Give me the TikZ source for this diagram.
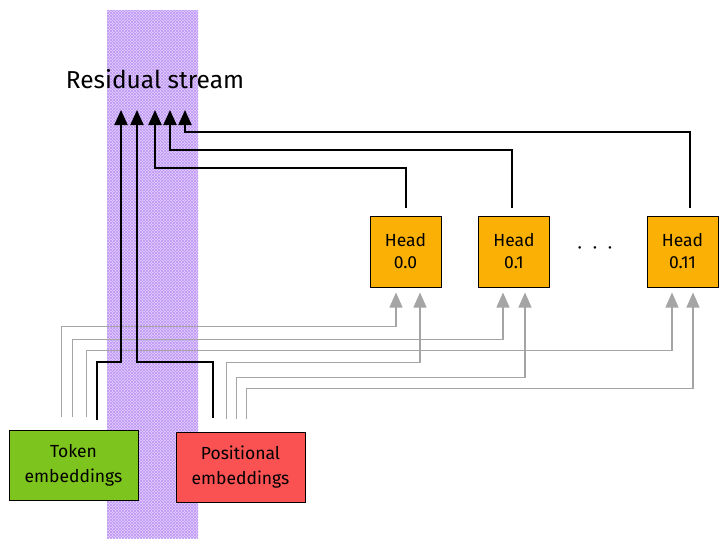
\documentclass[tikz,border=0pt]{standalone}
\usepackage{fontspec}
\setmainfont{Fira Sans}
\usetikzlibrary{arrows.meta,patterns}
\definecolor{band}{RGB}{228,208,252}
\definecolor{bandline}{RGB}{190,150,245}
\definecolor{headfill}{RGB}{250,176,5}
\definecolor{tokfill}{RGB}{126,196,31}
\definecolor{posfill}{RGB}{250,82,82}
\definecolor{graylink}{RGB}{165,165,165}
\tikzset{
  box/.style={draw=black, line width=1pt, align=center, inner sep=0pt},
  headbox/.style={box, fill=headfill, minimum width=71pt, minimum height=71pt, font=\fontsize{17.5}{22}\selectfont},
  embbox/.style={box, minimum width=129pt, minimum height=70pt, font=\fontsize{17.5}{25}\selectfont},
  blk/.style={draw=black, line width=2pt, -{Triangle[length=15pt,width=13pt]}},
  gry/.style={draw=graylink, line width=1.4pt, -{Triangle[length=15pt,width=13pt]}},
}
\begin{document}
\begin{tikzpicture}[x=1pt,y=-1pt]
\useasboundingbox (0,0) rectangle (728,544);
% residual stream band
\fill[band] (107,10) rectangle (198,538);
\fill[pattern=north east lines, pattern color=bandline] (107,10) rectangle (198,538);
\fill[pattern=north west lines, pattern color=bandline] (107,10) rectangle (198,538);
\node[font=\fontsize{24.5}{28}\selectfont] (rs) at (155,79) {Residual stream};
% arrow tips into the stream
\coordinate (r1) at (121,110);
\coordinate (r2) at (137,110);
\coordinate (r3) at (155,110);
\coordinate (r4) at (170,110);
\coordinate (r5) at (185,110);
% boxes
\node[headbox] (h0) at (405.5,251.5) {Head\\0.0};
\node[headbox] (h1) at (514,251.5) {Head\\0.1};
\node[headbox] (h11) at (682.5,251.5) {Head\\0.11};
\node[font=\fontsize{18}{20}\selectfont] (dots) at (595,250) {·\hspace{0.6em}·\hspace{0.6em}·};
\node[embbox, fill=tokfill] (tok) at (73.5,465) {Token\\embeddings};
\node[embbox, fill=posfill] (pos) at (240.5,467) {Positional\\embeddings};
% gray links from embeddings to heads
\draw[gry] ([shift={(53,-13)}]tok.north west) -- ++(0,-90) -| ([shift={(-9.5,5)}]h0.south);
\draw[gry] ([shift={(64,-13)}]tok.north west) -- ++(0,-77) -| ([shift={(-11,5)}]h1.south);
\draw[gry] ([shift={(78,-13)}]tok.north west) -- ++(0,-66) -| ([shift={(-10.5,5)}]h11.south);
\draw[gry] ([shift={(51,-13)}]pos.north west) -- ++(0,-56) -| ([shift={(14.5,5)}]h0.south);
\draw[gry] ([shift={(61,-13)}]pos.north west) -- ++(0,-41) -| ([shift={(11,5)}]h1.south);
\draw[gry] ([shift={(71,-13)}]pos.north west) -- ++(0,-30) -| ([shift={(10.5,5)}]h11.south);
% black links into residual stream
\draw[blk] ([shift={(23.5,-10)}]tok.north) -- ++(0,-58) -| (r1);
\draw[blk] ([shift={(-27.5,-14)}]pos.north) -- ++(0,-56) -| (r2);
\draw[blk] ([shift={(0.5,-8)}]h0.north) -- ++(0,-40) -| (r3);
\draw[blk] ([shift={(-2,-8)}]h1.north) -- ++(0,-58) -| (r4);
\draw[blk] ([shift={(7.5,-8)}]h11.north) -- ++(0,-76) -| (r5);
\end{tikzpicture}
\end{document}
